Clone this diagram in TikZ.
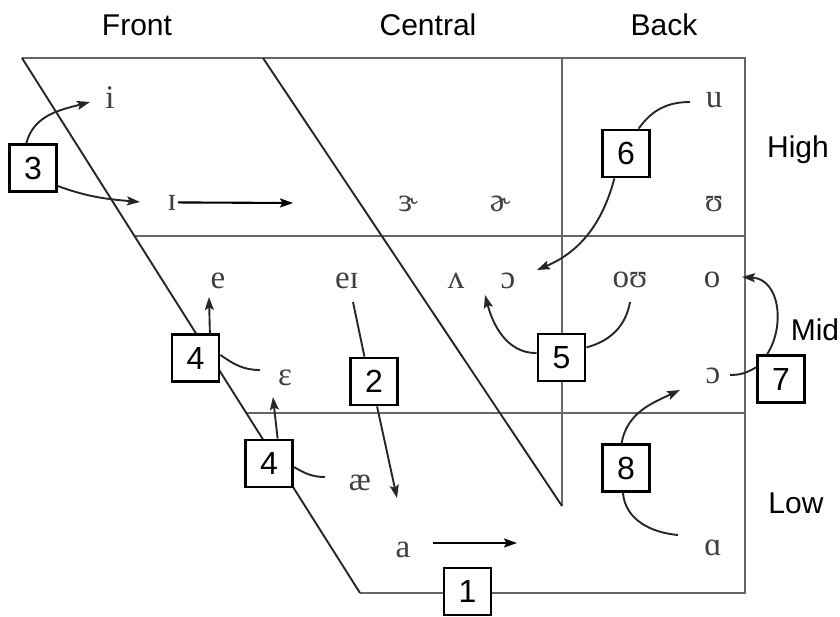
\documentclass[tikz,border=0pt]{standalone}
\usepackage{fontspec}
\setmainfont{Liberation Sans}
\newfontfamily\ipafont{Liberation Serif}
\usetikzlibrary{arrows.meta}

\begin{document}
\begin{tikzpicture}[x=1pt,y=-1pt,
  grid/.style={draw=black!60,line width=2.4pt},
  slant/.style={draw=black!85,line width=1.9pt},
  numbox/.style={draw=black,line width=2.8pt,fill=white,minimum width=47pt,
    minimum height=47pt,inner sep=0pt,font=\fontsize{32}{32}\selectfont},
  vowel/.style={anchor=base,inner sep=1pt,text=black!75,
    font=\ipafont\fontsize{33}{33}\selectfont},
  axislabel/.style={anchor=base,font=\fontsize{30}{30}\selectfont},
  link/.style={draw=black!85,line width=1.9pt},
  arr/.style={link,-{Stealth[length=13pt,width=9pt,inset=2.5pt]}},
  straightarr/.style={arr,draw=black,line width=2.1pt},
]
\useasboundingbox (0,0) rectangle (840,616);

% vowel chart frame
\coordinate (TL) at (22,58);
\coordinate (TC) at (263,58);
\coordinate (TB) at (562,58);
\coordinate (TR) at (745,58);
\coordinate (BR) at (745,593);
\coordinate (BL) at (360,593);
\coordinate (CE) at (562,506);
\coordinate (ML) at (134.4,236);
\coordinate (MR) at (745,236);
\coordinate (LL) at (246.2,413);
\coordinate (LR) at (745,413);

\draw[grid] (TL) -- (TR) -- (BR) -- (BL);
\draw[grid] (TB) -- (CE);
\draw[grid] (ML) -- (MR);
\draw[grid] (LL) -- (LR);
\draw[slant] (TL) -- (BL);
\draw[slant] (TC) -- (CE);

% column and row labels
\node[axislabel] (front) at (137,35) {Front};
\node[axislabel] (central) at (428,35) {Central};
\node[axislabel] (back) at (664,35) {Back};
\node[axislabel] (high) at (798,157) {High};
\node[axislabel] (mid) at (815,340) {Mid};
\node[axislabel] (low) at (796,513) {Low};

% numbered boxes
\node[numbox] (b3) at (33,168) {3};
\node[numbox] (b6) at (626,153.5) {6};
\node[numbox] (b4a) at (195.5,358) {4};
\node[numbox] (b2) at (374,381.5) {2};
\node[numbox] (b5) at (561.5,357.5) {5};
\node[numbox] (b7) at (781,379) {7};
\node[numbox] (b8) at (626,468) {8};
\node[numbox] (b4b) at (269,463.5) {4};
\node[numbox] (b1) at (467.5,591.5) {1};

% vowels
\node[vowel] (vi) at (110,108) {i};
\node[vowel] (vI) at (172,210) {ɪ};
\node[vowel] (ver) at (408,211) {ɝ};
\node[vowel] (vschwar) at (500,211) {ɚ};
\node[vowel] (vu) at (714,107) {u};
\node[vowel] (vU) at (714,211) {ʊ};
\node[vowel] (ve) at (218,288) {e};
\node[vowel] (vei) at (347,288) {eɪ};
\node[vowel] (vwedge) at (456,288) {ʌ};
\node[vowel] (vopen) at (508,288) {ɔ};
\node[vowel] (vou) at (630,287) {oʊ};
\node[vowel] (vo) at (712,287) {o};
\node[vowel] (veps) at (285,385) {ɛ};
\node[vowel] (vopenb) at (713,383) {ɔ};
\node[vowel] (vae) at (360,490) {æ};
\node[vowel] (va) at (403,557) {a};
\node[vowel] (valpha) at (713,555) {ɑ};

% free ends of the connectors
\coordinate (t3a) at (90,102);
\coordinate (t3b) at (140,202);
\coordinate (tI) at (293,203);
\coordinate (s6) at (690,102);
\coordinate (t6) at (537,270);
\coordinate (t5) at (485,295);
\coordinate (s5) at (630,302);
\coordinate (t7) at (742,277);
\coordinate (s7) at (730,375);
\coordinate (t8) at (680,390);
\coordinate (s8) at (678,535);
\coordinate (t4a) at (209,297);
\coordinate (s4a) at (260,370);
\coordinate (t4b) at (273,397);
\coordinate (s4b) at (325,477);
\coordinate (s2) at (353,302);
\coordinate (t2) at (397,498);
\coordinate (sa) at (433,543);
\coordinate (ta) at (517,543);

% connectors
\draw[arr] (b3.105) to[out=75,in=195] (t3a);
\draw[arr] (b3.-36) to[out=-20,in=175] (t3b);
\draw[straightarr] (vI.east) -- (tI);
\draw[link] (s6) to[out=180,in=55] (b6.63);
\draw[arr] (b6.-115) to[out=-105,in=23] (t6);
\draw[arr] (b5.170) to[out=180,in=-75] (t5);
\draw[link] (b5.22) to[out=15,in=-100] (s5);
\draw[arr] (b7.119) .. controls +(18,-28) and +(38,2) .. (t7);
\draw[link] (s7) to[out=0,in=210] (b7.155);
\draw[arr] (b8.100) to[out=80,in=205] (t8);
\draw[link] (b8.-97) to[out=-85,in=175] (s8);
\draw[arr] (b4a.60) -- (t4a);
\draw[link] (b4a.7) to[out=-35,in=180] (s4a);
\draw[arr] (b4b.71) -- (t4b);
\draw[link] (b4b.-8) to[out=-30,in=180] (s4b);
\draw[link] (b2.111) -- (s2);
\draw[arr] (b2.-83) -- (t2);
\draw[straightarr] (sa) -- (ta);
\end{tikzpicture}
\end{document}
